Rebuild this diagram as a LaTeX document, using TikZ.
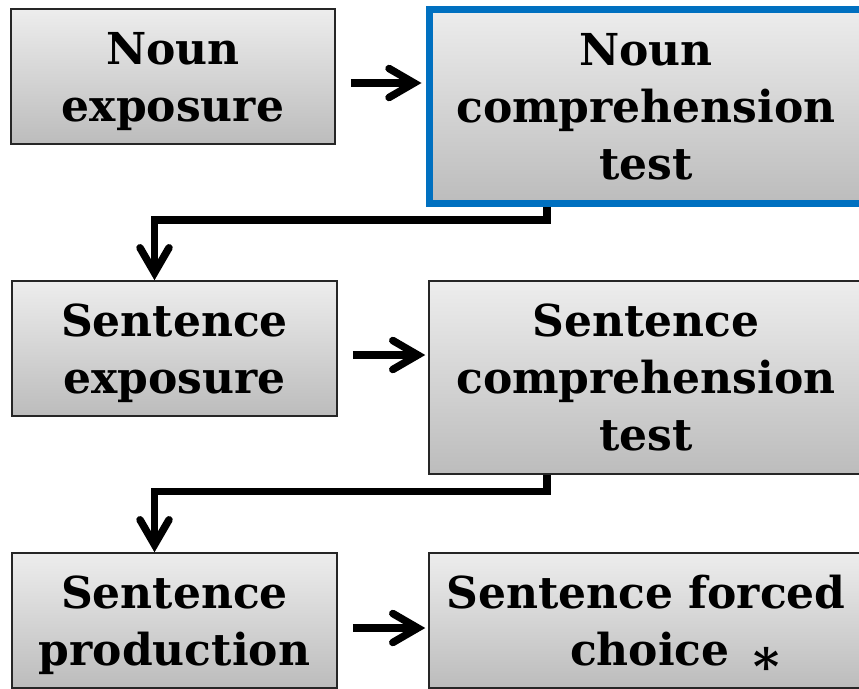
\documentclass[tikz,border=0pt]{standalone}
\usepackage{fontspec}
\setmainfont{DejaVu Serif}
\usetikzlibrary{arrows.meta,calc}
\definecolor{blueborder}{RGB}{0,112,192}
\definecolor{gtop}{RGB}{237,237,237}
\definecolor{gbot}{RGB}{188,188,188}
\tikzset{
  box/.style={draw=black!85, line width=1.5pt, top color=gtop, bottom color=gbot,
    inner sep=0pt, align=center, text depth=0pt, font=\bfseries\fontsize{44}{57}\selectfont},
  bluebox/.style={box, draw=blueborder, line width=7pt},
  flow/.style={line width=7.5pt, line join=miter,
    -{Straight Barb[length=25pt,width=29pt,line cap=round]}}
}
\begin{document}
\begin{tikzpicture}[x=1pt,y=-1pt]
\useasboundingbox (0,0) rectangle (859,688);
\clip (0,0) rectangle (859,688);
\node[box, minimum width=324pt, minimum height=135pt] (A) at (173,76.5) {Noun\\exposure};
\node[bluebox, minimum width=434pt, minimum height=194pt] (B) at (646,106) {Noun\\comprehension\\test};
\node[box, minimum width=325pt, minimum height=135pt] (C) at (174.5,348.5) {Sentence\\exposure};
\node[box, minimum width=434pt, minimum height=193pt] (D) at (646,377.5) {Sentence\\comprehension\\test};
\node[box, minimum width=325pt, minimum height=135pt] (E) at (174.5,620.5) {Sentence\\production};
\node[box, minimum width=434pt, minimum height=135pt] (F) at (646,620.5) {Sentence forced\\\hspace*{58pt}choice\hspace{0.55em}\raisebox{-19pt}[0pt][0pt]{\fontsize{50}{50}\selectfont *}};
\draw[flow] ($(A.east)+(15,6.5)$) -- ($(B.west)+(-4,-23)$);
\draw[flow] ($(B.south)+(-99,0)$) |- ($(C.north)+(-20,-60.5)$) -- ($(C.north)+(-20,0)$);
\draw[flow] ($(C.east)+(15,6.5)$) -- ($(D.west)+(-3,-22.5)$);
\draw[flow] ($(D.south)+(-99,0)$) |- ($(E.north)+(-20,-61)$) -- ($(E.north)+(-20,0)$);
\draw[flow] ($(E.east)+(15,7.5)$) -- ($(F.west)+(-3,7.5)$);
\end{tikzpicture}
\end{document}
